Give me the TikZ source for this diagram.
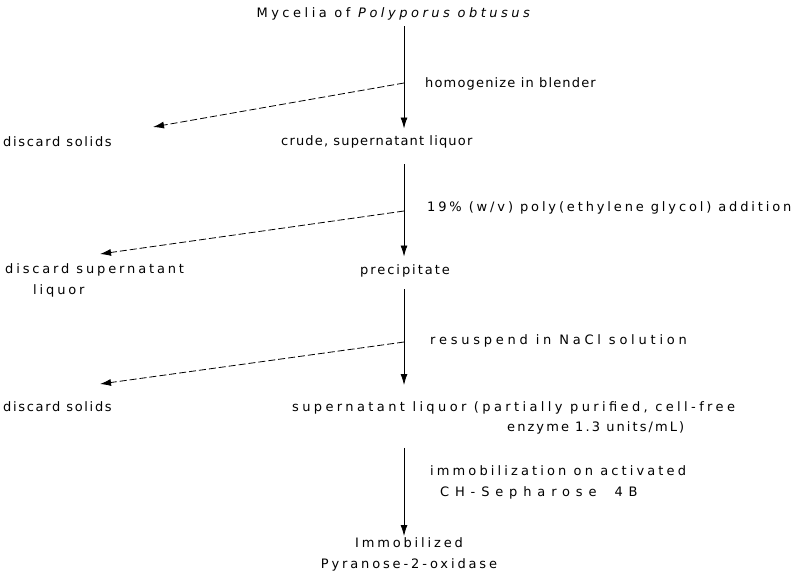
\documentclass[tikz,border=0pt]{standalone}
\usepackage{fontspec}
\setmainfont[LetterSpace=9]{DejaVu Sans}
\usetikzlibrary{arrows.meta}
\begin{document}
\begin{tikzpicture}[x = 1pt, y = -1pt, font = \fontsize{13}{20}\selectfont,
    flow/.style = {line width = .8pt, -{Latex[length = 11pt, width = 7pt]}},
    side/.style = {flow, dash pattern = on 7pt off 3pt},
    txt/.style = {inner sep = 0pt, align = left},
    spaced/.style = {font = \fontsize{13}{21}\selectfont\addfontfeature{LetterSpace = #1}}]
      \useasboundingbox (0,0) rectangle (802,571);
      \coordinate (spine) at (404,0);
      % steps
      \node [txt, spaced = 27] (mycelia) at (395,14) {Mycelia of \textit{Polyporus obtusus}};
      \node [txt, anchor = west] (crude) at (281,142) {crude, supernatant liquor};
      \node [txt, spaced = 15, anchor = west] (precip) at (360,271) {precipitate};
      \node [txt, anchor = north west] (super) at (292,401)
        {{\addfontfeature{LetterSpace = 26}supernatant liquor (partially purified, cell-free}\\
         \hspace*{215pt}{\addfontfeature{LetterSpace = 16}enzyme 1.3 units/mL)}};
      \node [txt, spaced = 22, anchor = north, align = center] (final) at (409,537)
        {Immobilized\\Pyranose-2-oxidase};
      % discards
      \node [txt, spaced = 13, anchor = west] (solids1) at (3,142) {discard solids};
      \node [txt, spaced = 22, anchor = north west] (superdisc) at (5,263)
        {discard supernatant\\\hspace*{28pt}liquor};
      \node [txt, spaced = 13, anchor = west] (solids2) at (3,407) {discard solids};
      % treatments
      \node [txt, anchor = west] (blend) at (425,84) {homogenize in blender};
      \node [txt, spaced = 22, anchor = west] (peg) at (427,208)
        {19\% (w/v) poly(ethylene glycol) addition};
      \node [txt, spaced = 29, anchor = west] (nacl) at (430,341) {resuspend in NaCl solution};
      \node [txt, spaced = 24, anchor = north west] (immob) at (430,465)
        {immobilization on activated\\
         \hspace*{10pt}{\addfontfeature{LetterSpace = 45}CH-Sepharose\hspace{8pt} 4B}};
      % branch points and tips
      \coordinate (b1) at (404,83);
      \coordinate (t1) at (153,127);
      \coordinate (b2) at (404,211);
      \coordinate (t2) at (100,254);
      \coordinate (b3) at (404,342);
      \coordinate (t3) at (100,384);
      \draw [flow] ([yshift = -6pt] mycelia.south -| spine) -- ([yshift = 7pt] crude.north -| spine);
      \draw [flow] ([yshift = -16pt] crude.south -| spine) -- ([yshift = 8pt] precip.north -| spine);
      \draw [flow] ([yshift = -12pt] precip.south -| spine) -- ([yshift = 16pt] super.north -| spine);
      \draw [flow] ([yshift = -14pt] super.south -| spine) -- ([yshift = 1pt] final.north -| spine);
      \draw [side] (b1) -- (t1);
      \draw [side] (b2) -- (t2);
      \draw [side] (b3) -- (t3);
    \end{tikzpicture}
\end{document}
